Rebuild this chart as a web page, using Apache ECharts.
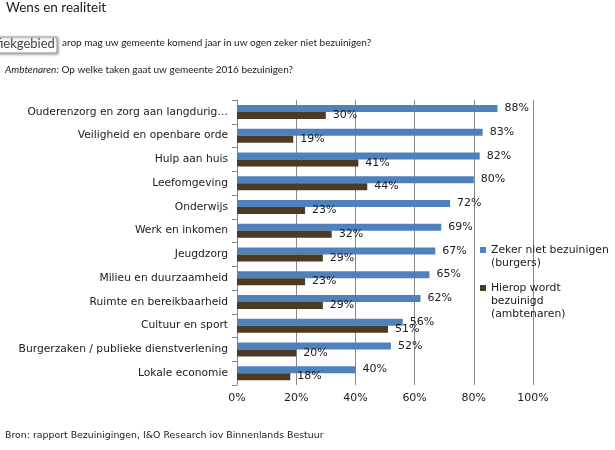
<!DOCTYPE html>
<html>
<head>
<meta charset="utf-8">
<script src="https://cdn.jsdelivr.net/npm/echarts@6/dist/echarts.min.js"></script>
<style>
  html, body { margin: 0; padding: 0; background: #fff; }
  #chart { width: 615px; height: 450px; }
</style>
</head>
<body>
<div id="chart"></div>
<script>
// categories top -> bottom
var categories = [
  'Ouderenzorg en zorg aan langdurig\u2026',
  'Veiligheid en openbare orde',
  'Hulp aan huis',
  'Leefomgeving',
  'Onderwijs',
  'Werk en inkomen',
  'Jeugdzorg',
  'Milieu en duurzaamheid',
  'Ruimte en bereikbaarheid',
  'Cultuur en sport',
  'Burgerzaken / publieke dienstverlening',
  'Lokale economie'
];
var burgers = [88, 83, 82, 80, 72, 69, 67, 65, 62, 56, 52, 40];
var ambtenaren = [30, 19, 41, 44, 23, 32, 29, 23, 29, 51, 20, 18];
var seriesNames = ['Zeker niet bezuinigen\n(burgers)', 'Hierop wordt\nbezuinigd\n(ambtenaren)'];
var xTicks = [0, 20, 40, 60, 80, 100];

var blue = '#4f81bd';
var brown = '#4a3b22';
var font = 'DejaVu Sans';

var chart = echarts.init(document.getElementById('chart'));

function barSeries(name, data, color) {
  return {
    name: name,
    type: 'bar',
    data: data,
    barWidth: 7,
    barGap: '0%',
    itemStyle: { color: color },
    label: {
      show: true,
      position: 'right',
      distance: 7,
      formatter: '{c}%',
      color: '#1a1a1a',
      fontFamily: font,
      fontSize: 11
    },
    emphasis: { disabled: true }
  };
}

// legend icon sits next to the first text line: pad the text block with
// blank lines above so its first line is the middle one
function legendFor(name, top) {
  var lines = name.split('\n').length;
  return {
    data: [name],
    orient: 'vertical', left: 480, top: top, padding: 0,
    icon: 'rect', itemWidth: 6, itemHeight: 6,
    selectedMode: false,
    formatter: function (n) {
      return new Array(lines).join('\n') + n;
    },
    textStyle: { fontFamily: font, fontSize: 10.8, color: '#1a1a1a', lineHeight: 13 }
  };
}

chart.setOption({
  animation: false,
  textStyle: { fontFamily: font },
  grid: { left: 237, right: 82, top: 100, bottom: 65, containLabel: false },
  xAxis: {
    type: 'value',
    min: xTicks[0],
    max: xTicks[xTicks.length - 1],
    interval: 20,
    axisLine: { show: false },
    axisTick: { show: false },
    axisLabel: { formatter: '{value}%', color: '#1a1a1a', fontSize: 11, margin: 8 },
    splitLine: { lineStyle: { color: '#868686', width: 1 } }
  },
  yAxis: {
    type: 'category',
    data: categories,
    inverse: true,
    axisLine: { show: true, lineStyle: { color: '#868686' } },
    axisTick: { show: true, length: 5, lineStyle: { color: '#868686' } },
    axisLabel: { color: '#1a1a1a', fontSize: 10.7, margin: 9 }
  },
  legend: [
    legendFor(seriesNames[0], 230.5),
    legendFor(seriesNames[1], 255.5)
  ],
  series: [
    barSeries(seriesNames[0], burgers, blue),
    barSeries(seriesNames[1], ambtenaren, brown)
  ],
  graphic: [
    {
      type: 'text', left: 6, top: 1,
      style: { text: 'Wens en realiteit', font: '13.5px Lato', fill: '#1a1a1a' }
    },
    {
      type: 'text', left: 62, top: 38,
      style: { text: 'arop mag uw gemeente komend jaar in uw ogen zeker niet bezuinigen?', font: '10px Lato', fill: '#1a1a1a' }
    },
    {
      type: 'text', left: 5, top: 65,
      style: {
        text: '{i|Ambtenaren:} Op welke taken gaat uw gemeente 2016 bezuinigen?',
        font: '10px Lato', fill: '#1a1a1a',
        rich: { i: { fontStyle: 'italic', fontFamily: 'Lato', fontSize: 10, fill: '#1a1a1a' } }
      }
    },
    {
      type: 'rect', shape: { x: -4, y: 37, width: 61, height: 16 },
      style: { fill: '#ffffff', stroke: '#9a9a9a', lineWidth: 1, shadowBlur: 3, shadowOffsetX: 1, shadowOffsetY: 1, shadowColor: 'rgba(0,0,0,0.35)' }
    },
    {
      type: 'text', x: -24.5, y: 37,
      style: { text: 'Grafiekgebied', font: '13px Lato', fill: '#444444' }
    },
    {
      type: 'text', left: 5, top: 431,
      style: { text: 'Bron: rapport Bezuinigingen, I&O Research iov Binnenlands Bestuur', font: '9.4px "DejaVu Sans"', fill: '#1a1a1a' }
    }
  ]
});
</script>
</body>
</html>
